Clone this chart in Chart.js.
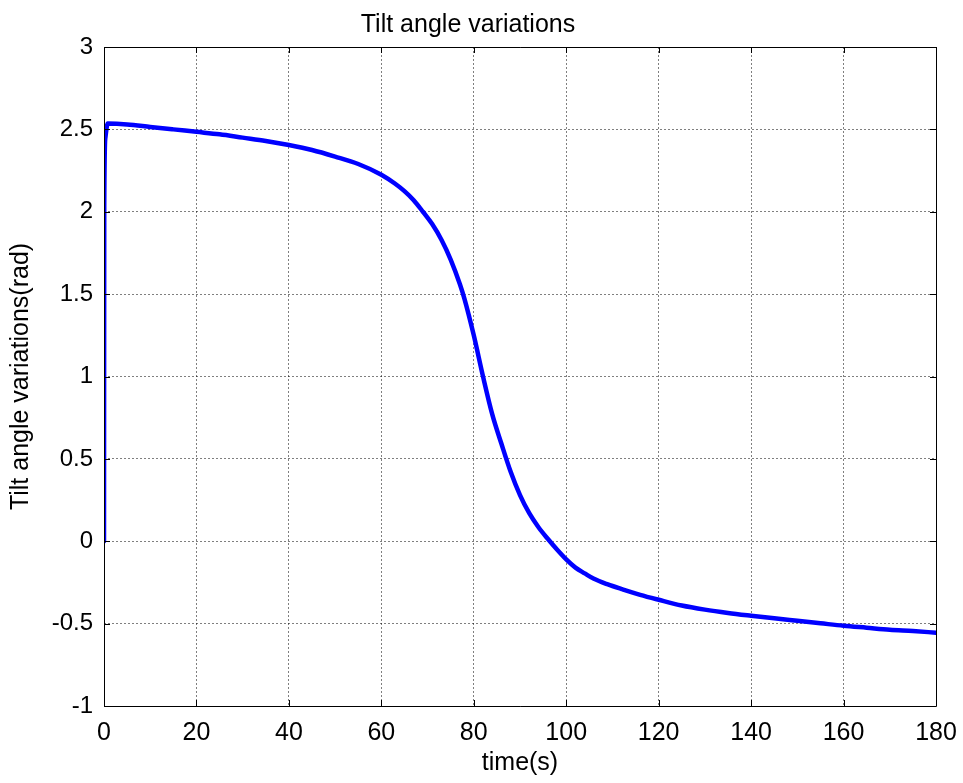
<!DOCTYPE html>
<html>
<head>
<meta charset="utf-8">
<script src="https://cdn.jsdelivr.net/npm/chart.js@4.4.1/dist/chart.umd.min.js"></script>
<style>
  html, body { margin: 0; padding: 0; background: #ffffff; }
  #wrap { width: 963px; height: 783px; }
</style>
</head>
<body>
<div id="wrap"><canvas id="c" width="963" height="783"></canvas></div>
<script>
// ---- data ----
const chartTitle = "Tilt angle variations";
const xAxisTitle = "time(s)";
const yAxisTitle = "Tilt angle variations(rad)";
const timeValues = [0, 0.05, 0.3, 0.8, 5, 10, 15, 20, 25, 30, 35, 40, 45, 50, 55, 60, 63, 65, 67, 69, 71, 73, 75, 77, 78, 80, 82, 84, 86, 88, 90, 92, 94, 96, 98, 100, 102, 104, 106, 109, 112, 116, 120, 125, 130, 135, 140, 145, 150, 155, 160, 165, 170, 175, 180];
const tiltValues = [0, 2.03, 2.45, 2.535, 2.53, 2.515, 2.50, 2.485, 2.47, 2.45, 2.43, 2.405, 2.375, 2.335, 2.29, 2.225, 2.17, 2.125, 2.07, 2.0, 1.925, 1.83, 1.71, 1.56, 1.47, 1.25, 1.0, 0.77, 0.59, 0.42, 0.28, 0.17, 0.085, 0.015, -0.05, -0.11, -0.16, -0.195, -0.228, -0.262, -0.29, -0.325, -0.355, -0.39, -0.415, -0.435, -0.452, -0.468, -0.483, -0.498, -0.513, -0.525, -0.537, -0.545, -0.555];
const xTicks = [0, 20, 40, 60, 80, 100, 120, 140, 160, 180];
const yTicks = [-1, -0.5, 0, 0.5, 1, 1.5, 2, 2.5, 3];

const points = timeValues.map((t, i) => ({ x: t, y: tiltValues[i] }));

const FONT = "'Liberation Sans', Arial, sans-serif";

// frame + inward tick marks like MATLAB
const framePlugin = {
  id: 'frame',
  afterDraw(chart) {
    const ctx = chart.ctx;
    const a = chart.chartArea;
    const xs = chart.scales.x, ys = chart.scales.y;
    ctx.save();
    ctx.strokeStyle = '#000';
    ctx.lineWidth = 1;
    ctx.beginPath();
    const L = 6;
    xTicks.forEach(v => {
      const px = Math.round(xs.getPixelForValue(v)) + 0.5;
      ctx.moveTo(px, a.bottom); ctx.lineTo(px, a.bottom - L);
      ctx.moveTo(px, a.top); ctx.lineTo(px, a.top + L);
    });
    yTicks.forEach(v => {
      const py = Math.round(ys.getPixelForValue(v)) + 0.5;
      ctx.moveTo(a.left, py); ctx.lineTo(a.left + L, py);
      ctx.moveTo(a.right, py); ctx.lineTo(a.right - L, py);
    });
    ctx.stroke();
    ctx.beginPath();
    ctx.rect(Math.round(a.left) + 0.5, Math.round(a.top) + 0.5, Math.round(a.right - a.left), Math.round(a.bottom - a.top));
    ctx.stroke();
    ctx.restore();
  }
};

new Chart(document.getElementById('c'), {
  type: 'line',
  data: {
    datasets: [{
      data: points,
      borderColor: '#0000ff',
      borderWidth: 4.5,
      pointRadius: 0,
      fill: false,
      tension: 0,
      cubicInterpolationMode: 'monotone',
      borderJoinStyle: 'round',
      borderCapStyle: 'round'
    }]
  },
  options: {
    responsive: false,
    animation: false,
    devicePixelRatio: 1,
    layout: { padding: { left: 0, right: 27, top: 0, bottom: 0 } },
    plugins: {
      legend: { display: false },
      tooltip: { enabled: false },
      title: {
        display: true,
        text: chartTitle,
        color: '#000',
        font: { family: FONT, size: 25, weight: 'normal', lineHeight: 1.2 },
        padding: { top: 10, bottom: 7 }
      }
    },
    scales: {
      x: {
        type: 'linear',
        min: 0, max: 180,
        afterBuildTicks: s => { s.ticks = xTicks.map(v => ({ value: v })); },
        afterFit: s => { s.height = 77; s.paddingRight = 0; s.paddingLeft = 0; },
        ticks: { color: '#000', font: { family: FONT, size: 25 }, padding: 12, maxRotation: 0 },
        grid: { color: 'rgba(0,0,0,0.5)', lineWidth: 1, drawTicks: false, borderDash: [2, 2] },
        border: { display: false, dash: [2, 2] },
        title: { display: true, text: xAxisTitle, color: '#000', font: { family: FONT, size: 25, lineHeight: 1.2 }, padding: { top: 4, bottom: 5 } }
      },
      y: {
        type: 'linear',
        min: -1, max: 3,
        afterBuildTicks: s => { s.ticks = yTicks.map(v => ({ value: v })); },
        afterFit: s => { s.width = 104; },
        ticks: { color: '#000', font: { family: FONT, size: 24 }, padding: 11, callback: v => String(v) },
        grid: { color: 'rgba(0,0,0,0.5)', lineWidth: 1, drawTicks: false, borderDash: [2, 2] },
        border: { display: false, dash: [2, 2] },
        title: { display: true, text: yAxisTitle, color: '#000', font: { family: FONT, size: 25, lineHeight: 1.2 }, padding: { top: 6, bottom: 4 } }
      }
    }
  },
  plugins: [framePlugin]
});
</script>
</body>
</html>
